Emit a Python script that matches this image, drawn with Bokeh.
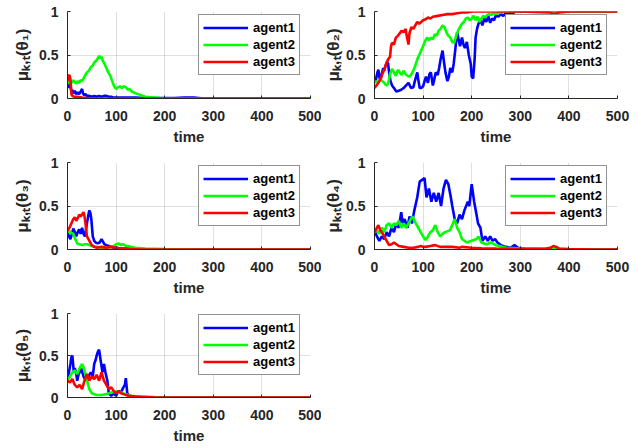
from bokeh.plotting import figure
from bokeh.models import Range1d, Legend, LegendItem
from bokeh.layouts import column, row
from bokeh.embed import file_html
from bokeh.resources import INLINE

agents = ["agent1", "agent2", "agent3"]
colors = ["#0000ff", "#00ff00", "#ff0000"]
x_ticks = [0, 100, 200, 300, 400, 500]
y_ticks = [0, 0.5, 1]
y_labels = ["μₖ,ₜ(θ₁)", "μₖ,ₜ(θ₂)", "μₖ,ₜ(θ₃)", "μₖ,ₜ(θ₄)", "μₖ,ₜ(θ₅)"]
x_label = "time"

# ---- theta 1 ----
t1_a1 = [0, 2, 4, 6, 8, 10, 12, 15, 18, 21, 24, 27, 30, 32, 34, 37, 40, 45, 50, 55, 60, 65, 70, 75, 80, 85, 90, 95,
         100, 110, 120, 140, 160, 180, 200, 220, 240, 250, 260, 270, 280, 300, 350, 400, 450, 500]
v1_a1 = [0.20, 0.17, 0.12, 0.15, 0.08, 0.10, 0.06, 0.09, 0.05, 0.07, 0.05, 0.08, 0.11, 0.06, 0.04, 0.05, 0.03, 0.03,
         0.02, 0.03, 0.02, 0.03, 0.02, 0.03, 0.03, 0.02, 0.02, 0.01, 0.01, 0.01, 0.01, 0.01, 0.005, 0.005, 0.005,
         0.005, 0.01, 0.01, 0.01, 0.005, 0.0, 0.0, 0.0, 0.0, 0.0, 0.0]
t1_a2 = [0, 3, 6, 9, 12, 15, 18, 21, 24, 27, 30, 33, 36, 40, 44, 48, 52, 56, 60, 63, 66, 68, 70, 73, 76, 80, 84, 88,
         92, 96, 100, 104, 108, 112, 116, 120, 124, 128, 132, 136, 140, 145, 150, 160, 170, 180, 190, 200, 250, 300, 500]
v1_a2 = [0.20, 0.17, 0.20, 0.18, 0.21, 0.19, 0.17, 0.20, 0.18, 0.21, 0.20, 0.23, 0.26, 0.30, 0.32, 0.36, 0.38, 0.42,
         0.44, 0.47, 0.49, 0.46, 0.48, 0.43, 0.40, 0.35, 0.30, 0.26, 0.20, 0.14, 0.11, 0.13, 0.14, 0.12, 0.14, 0.13,
         0.10, 0.11, 0.08, 0.07, 0.06, 0.05, 0.04, 0.02, 0.015, 0.01, 0.005, 0.0, 0.0, 0.0, 0.0]
t1_a3 = [0, 2, 4, 6, 8, 10, 14, 20, 30, 40, 60, 100, 500]
v1_a3 = [0.20, 0.26, 0.27, 0.22, 0.05, 0.03, 0.02, 0.02, 0.01, 0.005, 0.0, 0.0, 0.0]

# ---- theta 2 ----
t2_a1 = [0, 3, 6, 8, 10, 12, 15, 18, 20, 23, 26, 28, 30, 33, 36, 40, 45, 50, 55, 60, 65, 70, 75, 80, 83, 86, 88, 90,
         93, 96, 100, 103, 106, 110, 113, 116, 120, 123, 126, 130, 133, 136, 140, 143, 146, 150, 153, 156, 160, 163,
         166, 170, 173, 176, 180, 183, 186, 190, 194, 198, 200, 203, 206, 208, 211, 214, 218, 222, 226, 230, 234, 238,
         242, 246, 250, 255, 260, 265, 270, 275, 280, 285, 290, 300, 320, 500]
v2_a1 = [0.20, 0.22, 0.30, 0.33, 0.25, 0.20, 0.28, 0.35, 0.32, 0.38, 0.42, 0.40, 0.30, 0.20, 0.15, 0.12, 0.08, 0.09,
         0.10, 0.12, 0.15, 0.18, 0.12, 0.13, 0.20, 0.26, 0.30, 0.22, 0.12, 0.12, 0.14, 0.20, 0.25, 0.18, 0.28, 0.30,
         0.15, 0.22, 0.30, 0.27, 0.35, 0.45, 0.55, 0.42, 0.30, 0.20, 0.25, 0.35, 0.30, 0.40, 0.55, 0.76, 0.68, 0.60,
         0.70, 0.62, 0.58, 0.65, 0.50, 0.40, 0.25, 0.23, 0.45, 0.70, 0.80, 0.86, 0.90, 0.84, 0.92, 0.88, 0.95, 0.87,
         0.92, 0.90, 0.96, 0.94, 0.97, 0.95, 0.98, 0.97, 0.99, 0.98, 1.0, 1.0, 1.0, 1.0]
t2_a2 = [0, 4, 8, 12, 16, 20, 24, 28, 32, 36, 40, 44, 48, 52, 56, 60, 64, 68, 72, 76, 80, 84, 88, 92, 96, 100, 104,
         108, 112, 116, 120, 124, 128, 132, 136, 140, 144, 148, 152, 156, 160, 164, 168, 172, 176, 180, 184, 188, 192,
         196, 200, 204, 208, 212, 216, 220, 224, 228, 232, 236, 240, 245, 250, 255, 260, 270, 280, 300, 400, 500]
v2_a2 = [0.18, 0.20, 0.19, 0.22, 0.20, 0.18, 0.15, 0.17, 0.28, 0.34, 0.30, 0.26, 0.33, 0.30, 0.27, 0.32, 0.28, 0.26,
         0.25, 0.28, 0.32, 0.38, 0.45, 0.50, 0.55, 0.60, 0.66, 0.70, 0.67, 0.70, 0.68, 0.74, 0.72, 0.78, 0.80, 0.84,
         0.82, 0.76, 0.72, 0.70, 0.65, 0.64, 0.72, 0.78, 0.82, 0.86, 0.88, 0.92, 0.93, 0.90, 0.92, 0.95, 0.90, 0.94,
         0.88, 0.92, 0.95, 0.93, 0.96, 0.97, 0.96, 0.98, 0.97, 0.99, 0.99, 1.0, 1.0, 1.0, 1.0, 1.0]
t2_a3 = [0, 4, 8, 12, 16, 20, 24, 28, 32, 34, 36, 40, 44, 48, 52, 56, 60, 64, 67, 70, 72, 76, 80, 84, 88, 92, 96,
         100, 105, 110, 115, 120, 130, 140, 150, 160, 170, 180, 190, 200, 220, 250, 300, 360, 370, 375, 380, 400,
         450, 500]
v2_a3 = [0.12, 0.15, 0.18, 0.22, 0.28, 0.33, 0.40, 0.45, 0.48, 0.60, 0.64, 0.62, 0.70, 0.72, 0.75, 0.78, 0.76, 0.80,
         0.70, 0.62, 0.75, 0.82, 0.80, 0.84, 0.88, 0.86, 0.88, 0.90, 0.91, 0.93, 0.92, 0.94, 0.95, 0.96, 0.97, 0.97,
         0.98, 0.99, 0.99, 1.0, 1.0, 1.0, 1.0, 0.99, 0.97, 0.98, 0.99, 1.0, 1.0, 1.0]

# ---- theta 3 ----
t3_a1 = [0, 3, 6, 9, 12, 15, 18, 21, 24, 27, 30, 33, 36, 40, 43, 45, 47, 49, 52, 55, 58, 62, 66, 70, 73, 76, 80,
         85, 90, 95, 100, 110, 120, 140, 160, 200, 500]
v3_a1 = [0.20, 0.15, 0.12, 0.18, 0.24, 0.20, 0.15, 0.20, 0.23, 0.18, 0.25, 0.18, 0.15, 0.30, 0.40, 0.45, 0.42, 0.35,
         0.15, 0.10, 0.08, 0.07, 0.08, 0.12, 0.09, 0.06, 0.05, 0.04, 0.03, 0.02, 0.02, 0.01, 0.01, 0.005, 0.0, 0.0, 0.0]
t3_a2 = [0, 4, 8, 12, 16, 20, 25, 30, 35, 40, 50, 60, 70, 80, 90, 95, 100, 105, 110, 115, 120, 125, 130, 140, 160,
         200, 260, 500]
v3_a2 = [0.20, 0.21, 0.19, 0.18, 0.12, 0.07, 0.06, 0.05, 0.06, 0.06, 0.04, 0.03, 0.02, 0.02, 0.03, 0.04, 0.06, 0.07,
         0.05, 0.06, 0.04, 0.04, 0.03, 0.02, 0.01, 0.005, 0.0, 0.0]
t3_a3 = [0, 4, 8, 12, 15, 18, 21, 24, 27, 30, 33, 35, 37, 40, 45, 50, 55, 60, 70, 80, 90, 100, 110, 150, 500]
v3_a3 = [0.22, 0.25, 0.30, 0.35, 0.37, 0.33, 0.36, 0.40, 0.38, 0.40, 0.43, 0.38, 0.30, 0.15, 0.10, 0.05, 0.03, 0.02,
         0.03, 0.02, 0.03, 0.02, 0.01, 0.0, 0.0]

# ---- theta 4 ----
t4_a1 = [0, 5, 10, 15, 20, 25, 30, 35, 40, 45, 50, 55, 58, 62, 68, 72, 77, 82, 88, 93, 98, 103, 107, 112, 117, 122,
         127, 132, 137, 142, 147, 152, 157, 160, 165, 170, 175, 180, 185, 192, 195, 200, 205, 210, 213, 218, 222, 228,
         233, 238, 243, 248, 253, 260, 270, 280, 288, 295, 310, 350, 400, 500]
v4_a1 = [0.22, 0.15, 0.10, 0.15, 0.12, 0.20, 0.15, 0.25, 0.20, 0.30, 0.25, 0.43, 0.30, 0.35, 0.25, 0.38, 0.30, 0.45,
         0.60, 0.78, 0.80, 0.82, 0.60, 0.70, 0.55, 0.65, 0.55, 0.65, 0.50, 0.70, 0.80, 0.75, 0.60, 0.50, 0.35, 0.30,
         0.40, 0.35, 0.45, 0.55, 0.50, 0.75, 0.55, 0.40, 0.30, 0.25, 0.10, 0.15, 0.10, 0.15, 0.10, 0.12, 0.08, 0.05,
         0.03, 0.02, 0.05, 0.02, 0.01, 0.005, 0.0, 0.0]
t4_a2 = [0, 5, 10, 15, 20, 25, 30, 35, 40, 45, 50, 55, 60, 65, 70, 78, 85, 90, 95, 100, 105, 110, 115, 120, 125, 130,
         135, 140, 145, 155, 160, 165, 170, 175, 180, 190, 200, 210, 214, 220, 230, 240, 250, 270, 300, 350, 400, 500]
v4_a2 = [0.20, 0.22, 0.18, 0.25, 0.20, 0.28, 0.30, 0.25, 0.30, 0.28, 0.33, 0.25, 0.30, 0.25, 0.30, 0.38, 0.30, 0.25,
         0.20, 0.15, 0.11, 0.15, 0.20, 0.22, 0.28, 0.20, 0.15, 0.18, 0.20, 0.22, 0.28, 0.35, 0.25, 0.20, 0.12, 0.08,
         0.10, 0.12, 0.15, 0.08, 0.06, 0.08, 0.05, 0.02, 0.01, 0.01, 0.0, 0.0]
t4_a3 = [0, 4, 8, 12, 15, 20, 25, 30, 35, 40, 45, 50, 60, 70, 80, 90, 95, 100, 105, 115, 125, 135, 140, 160, 175,
         180, 200, 220, 250, 300, 350, 362, 368, 374, 380, 400, 450, 500]
v4_a3 = [0.20, 0.24, 0.28, 0.22, 0.20, 0.15, 0.10, 0.05, 0.06, 0.08, 0.06, 0.04, 0.03, 0.02, 0.02, 0.03, 0.04, 0.03,
         0.03, 0.04, 0.05, 0.03, 0.03, 0.03, 0.02, 0.03, 0.02, 0.015, 0.01, 0.005, 0.005, 0.02, 0.04, 0.03, 0.01,
         0.005, 0.0, 0.0]

# ---- theta 5 ----
t5_a1 = [0, 3, 6, 8, 10, 13, 15, 18, 20, 23, 25, 28, 33, 38, 43, 48, 52, 55, 58, 60, 63, 65, 68, 72, 75, 78, 82, 85,
         90, 95, 100, 105, 110, 115, 118, 120, 123, 128, 135, 150, 500]
v5_a1 = [0.22, 0.30, 0.40, 0.48, 0.50, 0.30, 0.35, 0.28, 0.20, 0.28, 0.30, 0.35, 0.25, 0.20, 0.25, 0.30, 0.25, 0.40,
         0.45, 0.50, 0.55, 0.57, 0.45, 0.30, 0.40, 0.30, 0.20, 0.05, 0.02, 0.05, 0.02, 0.08, 0.06, 0.12, 0.15, 0.23,
         0.05, 0.02, 0.01, 0.0, 0.0]
t5_a2 = [0, 5, 10, 15, 20, 25, 28, 30, 33, 36, 40, 45, 50, 60, 70, 80, 90, 100, 110, 120, 130, 150, 180, 220, 500]
v5_a2 = [0.20, 0.25, 0.30, 0.32, 0.28, 0.35, 0.38, 0.40, 0.36, 0.30, 0.20, 0.10, 0.05, 0.03, 0.03, 0.04, 0.06, 0.07,
         0.06, 0.04, 0.02, 0.01, 0.005, 0.0, 0.0]
t5_a3 = [0, 5, 10, 15, 20, 25, 30, 35, 40, 45, 50, 55, 60, 65, 70, 75, 80, 85, 90, 95, 100, 105, 110, 115, 125, 140,
         180, 500]
v5_a3 = [0.20, 0.18, 0.22, 0.15, 0.12, 0.15, 0.10, 0.20, 0.28, 0.20, 0.25, 0.22, 0.27, 0.20, 0.30, 0.20, 0.15, 0.10,
         0.12, 0.08, 0.05, 0.08, 0.05, 0.04, 0.02, 0.01, 0.0, 0.0]

panels = [
    [(t1_a1, v1_a1), (t1_a2, v1_a2), (t1_a3, v1_a3)],
    [(t2_a1, v2_a1), (t2_a2, v2_a2), (t2_a3, v2_a3)],
    [(t3_a1, v3_a1), (t3_a2, v3_a2), (t3_a3, v3_a3)],
    [(t4_a1, v4_a1), (t4_a2, v4_a2), (t4_a3, v4_a3)],
    [(t5_a1, v5_a1), (t5_a2, v5_a2), (t5_a3, v5_a3)],
]

FONT = "Liberation Sans"
AX = "#262626"
LEG_PAD = 4
LEG_ROW = 17


def make(idx, width, height, bl, br, bt, bb, ylab_standoff):
    p = figure(width=width, height=height, x_range=Range1d(0, 500), y_range=Range1d(0, 1),
               output_backend="svg", toolbar_location=None,
               min_border_left=bl, min_border_right=br, min_border_top=bt, min_border_bottom=bb)
    p.outline_line_color = None
    p.background_fill_color = "white"
    p.border_fill_color = "white"
    p.xaxis.ticker = x_ticks
    p.yaxis.ticker = y_ticks
    p.yaxis.major_label_overrides = {0: "0", 0.5: "0.5", 1: "1"}
    for ax in (p.xaxis[0], p.yaxis[0]):
        ax.axis_line_color = AX
        ax.major_tick_line_color = AX
        ax.major_tick_in = 3
        ax.major_tick_out = 0
        ax.minor_tick_line_color = None
        ax.major_label_text_font = FONT
        ax.major_label_text_font_style = "bold"
        ax.major_label_text_font_size = "14px"
        ax.major_label_text_color = AX
        ax.axis_label_text_font = FONT
        ax.axis_label_text_font_style = "bold"
        ax.axis_label_text_color = AX
    p.xaxis.axis_label_text_font_size = "15px"
    p.yaxis.axis_label_text_font_size = "17px"
    p.xaxis.major_label_standoff = 12
    p.yaxis.major_label_standoff = 9
    p.xaxis.axis_label = x_label
    p.xaxis.axis_label_standoff = 4
    p.yaxis.axis_label = y_labels[idx]
    p.yaxis.axis_label_standoff = ylab_standoff
    for g in (p.xgrid[0], p.ygrid[0]):
        g.grid_line_color = AX
        g.grid_line_alpha = 0.15
    items = []
    for k, (t, v) in enumerate(panels[idx]):
        r = p.line(t, v, line_color=colors[k], line_width=2.6)
        items.append(LegendItem(label=agents[k], renderers=[r]))
    frame_h = height - bt - bb
    leg_h = 2 * LEG_PAD + 3 * LEG_ROW
    leg = Legend(items=items, location=(131, frame_h - 5 - leg_h), margin=0,
                 border_line_color=AX, border_line_width=1,
                 background_fill_color="white", background_fill_alpha=1.0,
                 label_text_font=FONT, label_text_font_style="bold",
                 label_text_font_size="13px", label_text_color="black",
                 glyph_width=45, glyph_height=LEG_ROW, label_height=LEG_ROW,
                 label_standoff=5, padding=LEG_PAD, spacing=0)
    p.add_layout(leg)
    return p


p1 = make(0, 321, 150, 67, 11, 11, 52, 4)
p2 = make(1, 312, 150, 51, 16, 11, 52, 0)
p3 = make(2, 321, 150, 67, 11, 12, 51, 4)
p4 = make(3, 312, 150, 51, 16, 12, 51, 0)
p5 = make(4, 321, 146, 67, 11, 13, 47, 4)

layout = column(row(p1, p2), row(p3, p4), row(p5))

open("out.html", "w").write(file_html(layout, INLINE))
